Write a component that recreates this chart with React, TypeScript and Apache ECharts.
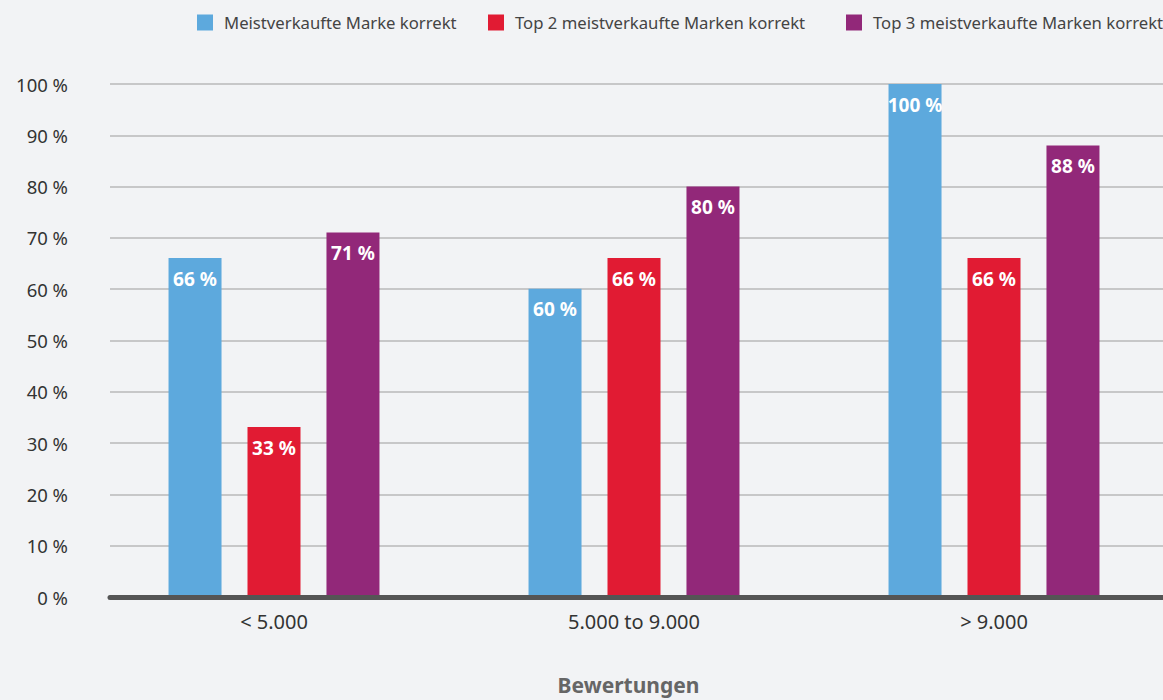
import React, { useEffect, useRef } from "react";
import * as echarts from "echarts";

const categories = ["< 5.000", "5.000 to 9.000", "> 9.000"];
const seriesNames = [
  "Meistverkaufte Marke korrekt",
  "Top 2 meistverkaufte Marken korrekt",
  "Top 3 meistverkaufte Marken korrekt",
];
const topOne = [66, 60, 100];
const topTwo = [33, 66, 66];
const topThree = [71, 80, 88];
const colors = ["#5DA9DD", "#E11B33", "#922879"];
const axisTitle = "Bewertungen";

const FONT = "'Noto Sans', sans-serif";
const legendLefts = [197, 488, 846];

export default function App() {
  const ref = useRef<HTMLDivElement>(null);
  useEffect(() => {
    document.body.style.margin = "0";
    const chart = echarts.init(ref.current!, null, { renderer: "svg" });
    const values = [topOne, topTwo, topThree];
    const catIdx = categories.map((_, i) => i);
    // plot B spans from x=bandLeft to the right edge (1163); one category = 360px
    const bandLeft = 94;
    const bandPx = 360;
    const xMin = -0.5;
    const xMax = xMin + (1163 - bandLeft) / bandPx;
    chart.setOption({
      animation: false,
      backgroundColor: "#F2F3F5",
      textStyle: { fontFamily: FONT },
      legend: seriesNames.map((n, i) => ({
        top: 14,
        left: legendLefts[i],
        padding: 0,
        itemWidth: 16,
        itemHeight: 16,
        icon: "rect",
        textStyle: { fontSize: 16.7, color: "#444", fontFamily: FONT, padding: [0, 0, 0, 6] },
        data: [n],
      })),
      grid: [
        { left: 110, right: 0, top: 84, bottom: 103 },
        { left: bandLeft, right: 0, top: 84, bottom: 103 },
      ],
      xAxis: [
        {
          type: "category",
          gridIndex: 0,
          data: categories,
          axisLine: { lineStyle: { color: "#555", width: 5 } },
          axisTick: { show: false },
          axisLabel: { show: false },
          z: 5,
        },
        {
          type: "value",
          gridIndex: 1,
          min: xMin,
          max: xMax,
          name: axisTitle,
          nameLocation: "middle",
          nameGap: 78,
          nameTextStyle: { fontSize: 21, fontWeight: "bold", color: "#666", fontFamily: FONT },
          axisLine: { show: false },
          axisTick: { show: false },
          splitLine: { show: false },
          axisLabel: {
            customValues: catIdx,
            fontSize: 20,
            color: "#333",
            margin: 15,
            fontFamily: FONT,
            formatter: (v: number) => categories[Math.round(v)] ?? "",
          },
        },
      ],
      yAxis: [
        {
          type: "value",
          gridIndex: 0,
          min: 0,
          max: 100,
          interval: 10,
          axisLine: { show: false },
          axisTick: { show: false },
          axisLabel: {
            fontSize: 18.5,
            color: "#333",
            margin: 42,
            fontFamily: FONT,
            formatter: (v: number) => `${v} %`,
          },
          splitLine: { lineStyle: { color: "#B8B8B8", width: 1.5 } },
        },
        {
          type: "value",
          gridIndex: 1,
          min: 0,
          max: 100,
          interval: 10,
          show: false,
          splitLine: { show: false },
        },
      ],
      series: seriesNames.map((name, i) => ({
        name,
        type: "bar",
        xAxisIndex: 1,
        yAxisIndex: 1,
        data: values[i].map((v, j) => [catIdx[j], v]),
        barWidth: 53,
        barGap: "49%",
        itemStyle: { color: colors[i] },
        label: {
          show: true,
          position: "insideTop",
          distance: 11,
          color: "#fff",
          fontSize: 19,
          fontWeight: "bold",
          fontFamily: FONT,
          formatter: (p: any) => `${p.value[1]} %`,
        },
      })),
    });
    return () => chart.dispose();
  }, []);
  return <div ref={ref} style={{ width: 1163, height: 700 }} />;
}
